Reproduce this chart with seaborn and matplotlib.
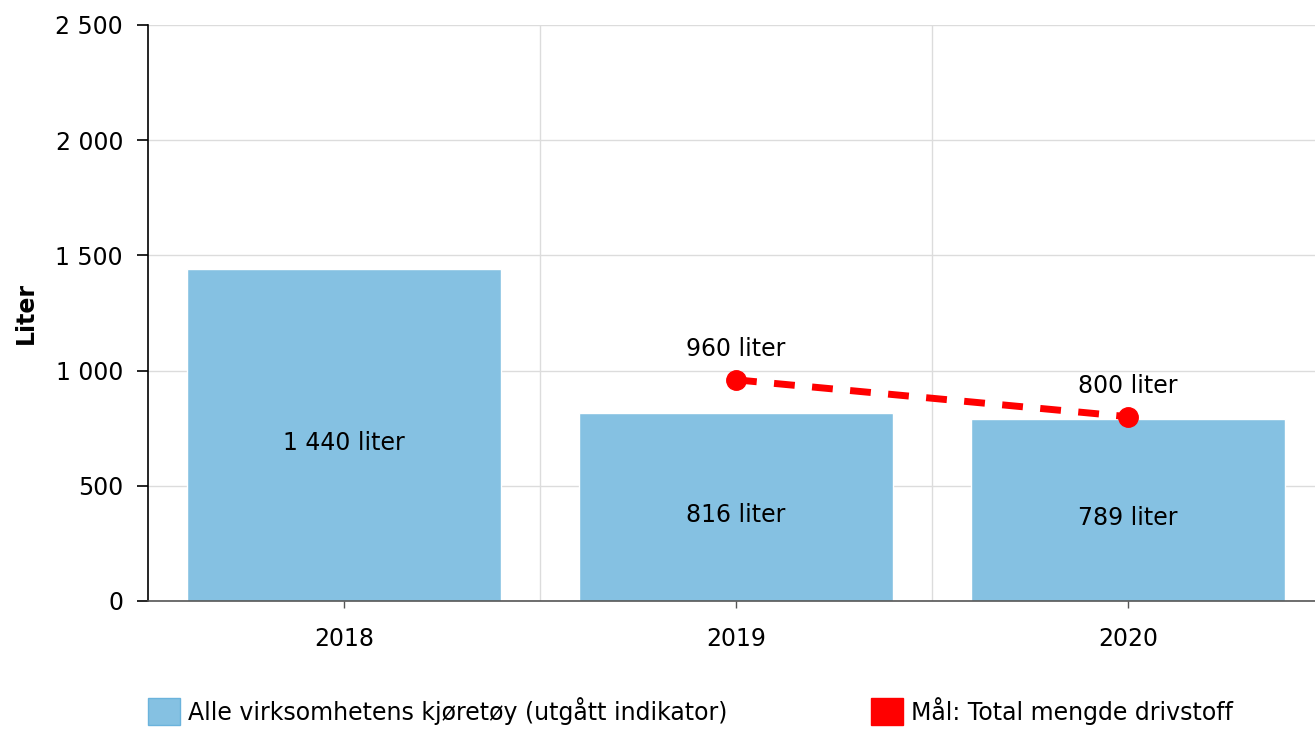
import seaborn as sns
import matplotlib.pyplot as plt
import matplotlib.ticker as mticker
from matplotlib.patches import Patch
import numpy as np
import pandas as pd

# data
years = ['2018', '2019', '2020']
usage = [1440, 816, 789]
target_years = ['2019', '2020']
target_values = [960, 800]
yticks = [0, 500, 1000, 1500, 2000, 2500]

bar_color = '#85c1e2'
goal_color = '#ff0000'
FS = 17

sns.set_style('white')
plt.rcParams['font.family'] = ['DejaVu Sans']

fig = plt.figure(figsize=(13.15, 7.29), dpi=100)
ax = fig.add_axes([148/1315, 1-601/729, 1176/1315, 576/729])

df = pd.DataFrame({'year': years, 'liter': usage})
sns.barplot(data=df, x='year', y='liter', order=years, color=bar_color,
            saturation=1, width=0.8, ax=ax, zorder=2)

# goal line
xpos = [years.index(y) for y in target_years]
ax.plot(xpos, target_values, color=goal_color, lw=5, dashes=(3.0, 2.5),
        marker='o', markersize=14, zorder=4)

def fmt(v):
    return f'{v:,}'.replace(',', ' ')

# bar labels
for i, v in enumerate(usage):
    ax.annotate(f'{fmt(v)} liter', (i, v / 2), xytext=(0, -6), textcoords='offset points',
                ha='center', va='center', fontsize=FS, color='black', zorder=5)
for x, v in zip(xpos, target_values):
    ax.annotate(f'{fmt(v)} liter', (x, v), xytext=(0, 22), textcoords='offset points',
                ha='center', va='center', fontsize=FS, color='black', zorder=5)

ax.set_xlim(-0.5, 2.5)
ax.set_ylim(0, 2500)
ax.set_yticks(yticks)
ax.yaxis.set_major_formatter(mticker.FuncFormatter(lambda v, p: fmt(int(v))))
ax.set_xticks(range(len(years)))
ax.set_xticks([0.5, 1.5], minor=True)

ax.set_axisbelow(True)
ax.grid(axis='y', which='major', color='#dcdcdc', lw=1)
ax.grid(axis='x', which='minor', color='#dcdcdc', lw=1)
ax.grid(axis='x', which='major', visible=False)

for s in ['top', 'right']:
    ax.spines[s].set_visible(False)
ax.spines['left'].set_color('black')
ax.spines['left'].set_linewidth(1.2)
ax.spines['bottom'].set_color('#555555')
ax.spines['bottom'].set_linewidth(1.2)

ax.tick_params(axis='y', which='major', left=True, length=8, width=1.2, color='black',
               pad=10, labelsize=FS, labelcolor='black')
ax.tick_params(axis='x', which='major', bottom=True, length=5, width=1, color='#555555',
               pad=14, labelsize=FS, labelcolor='black')
ax.tick_params(axis='x', which='minor', bottom=False, length=0)

ax.set_xlabel('')
ax.set_ylabel('Liter', fontsize=FS, fontweight='bold', color='black')
ax.yaxis.set_label_coords(-0.094, 0.5)

# legend
h1 = Patch(facecolor=bar_color, edgecolor='#6bb3dc', lw=1)
h2 = Patch(facecolor=goal_color, edgecolor=goal_color, lw=1)
kw = dict(frameon=False, fontsize=FS, handlelength=1.37, handleheight=1.37,
          handletextpad=0.34, borderpad=0, borderaxespad=0, loc='center left',
          labelcolor='black')
fig.legend([h1], ['Alle virksomhetens kjøretøy (utgått indikator)'],
           bbox_to_anchor=(148/1315, 1-711/729), **kw)
fig.legend([h2], ['Mål: Total mengde drivstoff'],
           bbox_to_anchor=(871/1315, 1-711/729), **kw)

fig.savefig('out.png', dpi=100)
